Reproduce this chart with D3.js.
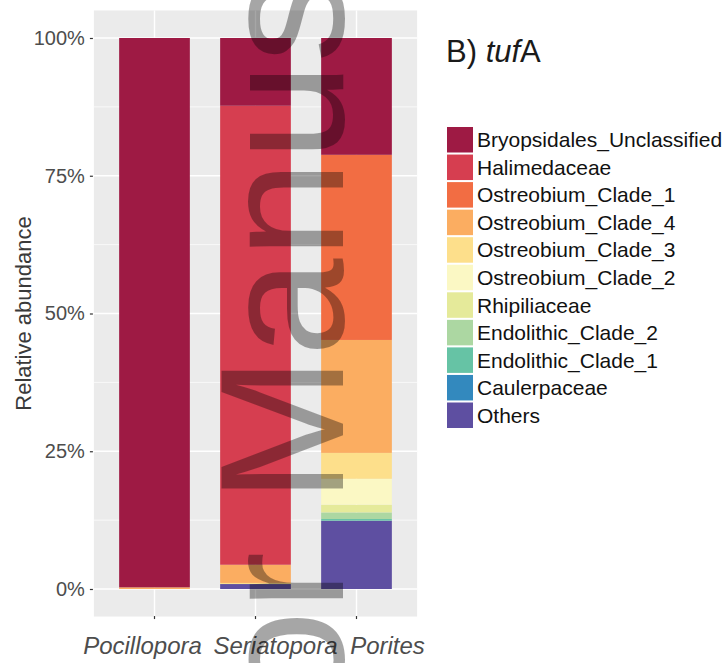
<!DOCTYPE html>
<html>
<head>
<meta charset="utf-8">
<script src="https://cdn.jsdelivr.net/npm/d3@7"></script>
<style>
  html, body { margin: 0; padding: 0; background: #ffffff; }
  svg { display: block; font-family: "Liberation Sans", Arial, Helvetica, sans-serif; }
</style>
</head>
<body>
<svg id="chart" width="724" height="663"></svg>
<script>
// Coral hosts on the x axis
const categories = ["Pocillopora", "Seriatopora", "Porites"];

// Taxa, top of the stack first (legend order)
const taxa = [
  "Bryopsidales_Unclassified", "Halimedaceae", "Ostreobium_Clade_1",
  "Ostreobium_Clade_4", "Ostreobium_Clade_3", "Ostreobium_Clade_2",
  "Rhipiliaceae", "Endolithic_Clade_2", "Endolithic_Clade_1",
  "Caulerpaceae", "Others"
];

// Relative abundance (%) per host, in the order of `categories`
const bryopsidalesUnclassified = [99.7, 12.3, 21.2];
const halimedaceae             = [0.0, 83.3, 0.0];
const ostreobiumClade1         = [0.0, 0.0, 33.6];
const ostreobiumClade4         = [0.3, 3.3, 20.5];
const ostreobiumClade3         = [0.0, 0.2, 4.7];
const ostreobiumClade2         = [0.0, 0.0, 4.7];
const rhipiliaceae             = [0.0, 0.0, 1.4];
const endolithicClade2         = [0.0, 0.0, 1.2];
const endolithicClade1         = [0.0, 0.0, 0.3];
const caulerpaceae             = [0.0, 0.0, 0.0];
const others                   = [0.0, 0.9, 12.4];

// Y axis tick values and labels
const yTicks = [0, 0.25, 0.5, 0.75, 1];
const yTickLabels = ["0%", "25%", "50%", "75%", "100%"];

// Spectral-style palette, one colour per taxon
const palette = ["#9e1a44", "#d63e50", "#f26d43", "#fbad61", "#fddf8b", "#fbf8c4",
                 "#e5ea9a", "#acd7a2", "#66c3a5", "#3389be", "#5e4fa1"];

// Horizontal nudge of each host name under its tick
const xLabelShift = [-12, 20, 31];

const series = [bryopsidalesUnclassified, halimedaceae, ostreobiumClade1, ostreobiumClade4,
  ostreobiumClade3, ostreobiumClade2, rhipiliaceae, endolithicClade2, endolithicClade1,
  caulerpaceae, others];

// One row per host, proportions rescaled to sum to 1
const rows = categories.map((c, i) => {
  const total = d3.sum(series, s => s[i]);
  const r = { host: c };
  taxa.forEach((t, k) => { r[t] = series[k][i] / total; });
  return r;
});

const svg = d3.select("#chart");

const panel = { left: 93.9, right: 417.1 };
const x = d3.scaleBand()
  .domain(categories)
  .range([panel.left, panel.right])
  .paddingInner(0.3)
  .paddingOuter(0.25);

const y = d3.scaleLinear().domain([0, 1]).range([589, 38]);
const panelTop = y(1.05), panelBottom = y(-0.05);

const color = d3.scaleOrdinal().domain(taxa).range(palette);

// Panel background
svg.append("rect")
  .attr("x", panel.left).attr("y", panelTop)
  .attr("width", panel.right - panel.left).attr("height", panelBottom - panelTop)
  .attr("fill", "#ebebeb");

// Minor horizontal gridlines
const minor = d3.range(0.125, 1, 0.25);
svg.append("g").selectAll("line").data(minor).join("line")
  .attr("x1", panel.left).attr("x2", panel.right)
  .attr("y1", d => y(d)).attr("y2", d => y(d))
  .attr("stroke", "#ffffff").attr("stroke-width", 0.7);

// Major gridlines
svg.append("g").selectAll("line").data(yTicks).join("line")
  .attr("x1", panel.left).attr("x2", panel.right)
  .attr("y1", d => y(d)).attr("y2", d => y(d))
  .attr("stroke", "#ffffff").attr("stroke-width", 1.4);
svg.append("g").selectAll("line").data(categories).join("line")
  .attr("x1", d => x(d) + x.bandwidth() / 2).attr("x2", d => x(d) + x.bandwidth() / 2)
  .attr("y1", panelTop).attr("y2", panelBottom)
  .attr("stroke", "#ffffff").attr("stroke-width", 1.4);

// Stacked bars: "Others" at the bottom, Bryopsidales on top
const stack = d3.stack().keys(taxa.slice().reverse());
const stacked = stack(rows);

svg.append("g").selectAll("g").data(stacked).join("g")
  .attr("fill", d => color(d.key))
  .selectAll("rect").data(d => d).join("rect")
  .attr("x", d => x(d.data.host))
  .attr("width", x.bandwidth())
  .attr("y", d => y(d[1]))
  .attr("height", d => Math.max(0, y(d[0]) - y(d[1])));

// Y axis
const yAxis = d3.axisLeft(y)
  .tickValues(yTicks)
  .tickFormat((d, i) => yTickLabels[i])
  .tickSize(3)
  .tickPadding(5);
const gy = svg.append("g").attr("transform", `translate(${panel.left - 1},0)`).call(yAxis);
gy.select(".domain").remove();
gy.selectAll(".tick line").attr("stroke", "#333333").attr("stroke-width", 1.2);
gy.selectAll(".tick text").attr("fill", "#4d4d4d").attr("font-size", 20)
  .attr("font-family", "Liberation Sans, Arial, sans-serif");

// X axis
const xAxis = d3.axisBottom(x).tickSize(3).tickPadding(18);
const gx = svg.append("g").attr("transform", `translate(0,${panelBottom - 0.5})`).call(xAxis);
gx.select(".domain").remove();
gx.selectAll(".tick line").attr("stroke", "#333333").attr("stroke-width", 1.2);
gx.selectAll(".tick text")
  .attr("fill", "#4d4d4d").attr("font-size", 24).attr("font-style", "italic")
  .attr("font-family", "Liberation Sans, Arial, sans-serif")
  .attr("dx", (d, i) => xLabelShift[i]);

// Y axis title
svg.append("text")
  .attr("transform", `translate(31,${(panelTop + panelBottom) / 2}) rotate(-90)`)
  .attr("text-anchor", "middle")
  .attr("font-size", 22)
  .attr("fill", "#3a3a3a")
  .text("Relative abundance");

// Panel title
const title = svg.append("text").attr("x", 446).attr("y", 62)
  .attr("font-size", 31).attr("fill", "#1a1a1a");
title.append("tspan").text("B) ");
title.append("tspan").attr("font-style", "italic").text("tuf");
title.append("tspan").text("A");

// Legend
const legendTop = 127, legendStep = 27.55, keySize = 25.5;
const legend = svg.append("g").selectAll("g").data(taxa).join("g")
  .attr("transform", (d, i) => `translate(447,${legendTop + i * legendStep})`);
legend.append("rect")
  .attr("width", 26).attr("height", keySize)
  .attr("fill", d => color(d));
legend.append("text")
  .attr("x", 30).attr("y", keySize / 2).attr("dy", "0.36em")
  .attr("font-size", 21).attr("fill", "#111111")
  .text(d => d);

// Watermark, rotated, reading bottom to top
const wm = svg.append("g").attr("fill", "#000000").attr("fill-opacity", 0.35)
  .attr("font-size", 176).attr("font-family", "Liberation Sans, Arial, sans-serif");
wm.append("text")
  .attr("transform", "translate(343,503) rotate(-90)")
  .attr("text-anchor", "start")
  .text("Manuscript");
wm.append("text")
  .attr("transform", "translate(343,552) rotate(-90)")
  .attr("text-anchor", "end")
  .text("Author");
</script>
</body>
</html>
